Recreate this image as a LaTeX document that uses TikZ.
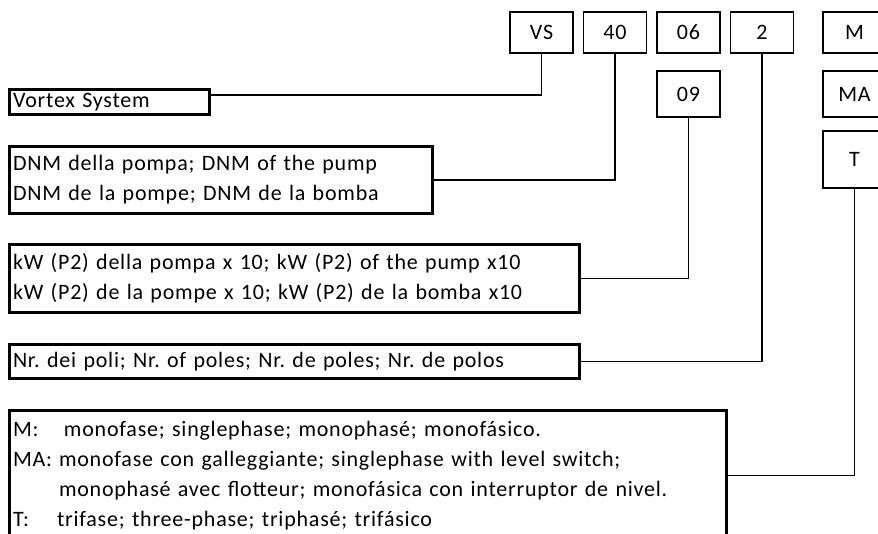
\documentclass[tikz,border=0pt]{standalone}
\usepackage{fontspec}
\setmainfont{Carlito}[LetterSpace=3.5]
\usetikzlibrary{positioning}
\frenchspacing

\begin{document}
\begin{tikzpicture}[x=1pt,y=-1pt,
        code box/.style={draw,line width=1.8pt,minimum width=63pt,minimum height=41pt,inner sep=0pt,font=\fontsize{22}{24}\selectfont},
        text box/.style={draw,line width=3pt,anchor=north west,inner sep=3.5pt,align=left,font=\fontsize{22}{30}\selectfont},
        link/.style={line width=1.6pt}]
        \useasboundingbox (0,0) rectangle (878,533);
        % code boxes on top
        \node[code box] (vs) at (541.5,32.5) {VS};
        \node[code box] (40) at (615,32.5) {40};
        \node[code box] (06) at (688.5,32.5) {06};
        \node[code box] (2) at (762,32.5) {2};
        \node[code box] (M) at (854.5,32.5) {M};
        \node[code box, minimum height=46pt] (09) at (688.5,94) {09};
        \node[code box, minimum height=46pt] (MA) at (854.5,94) {MA};
        \node[code box, minimum height=57pt] (T) at (854.5,159.5) {T};
        % description boxes
        \node[text box, text width=193pt, minimum height=25pt] (vortex) at (8,88) {Vortex System};
        \node[text box, text width=416pt, minimum height=67pt] (dnm) at (8,145)
            {DNM della pompa; DNM of the pump\\DNM de la pompe; DNM de la bomba};
        \node[text box, text width=563pt, minimum height=68pt] (kw) at (8,243)
            {kW (P2) della pompa x 10; kW (P2) of the pump x10\\kW (P2) de la pompe x 10; kW (P2) de la bomba x10};
        \node[text box, text width=563pt, minimum height=34pt] (poles) at (8,343)
            {Nr. dei poli; Nr. of poles; Nr. de poles; Nr. de polos};
        \node[text box, text width=710pt, minimum height=130pt] (phase) at (8,409)
            {\makebox[51pt][l]{M:}monofase; singlephase; monophasé; monofásico.\\
             \makebox[46pt][l]{MA:}monofase con galleggiante; singlephase with level switch;\\
             \hspace*{46pt}monophasé avec flotteur; monofásica con interruptor de nivel.\\
             \makebox[44pt][l]{T:}trifase; three-phase; triphasé; trifásico};
        % connectors
        \draw[link] (vs.south) |- ([yshift=7pt]vortex.east);
        \draw[link] (40.south) |- (dnm.east);
        \draw[link] (09.south) |- (kw.east);
        \draw[link] (2.south) |- (poles.east);
        \draw[link] (T.south) |- (phase.east);
\end{tikzpicture}
\end{document}
